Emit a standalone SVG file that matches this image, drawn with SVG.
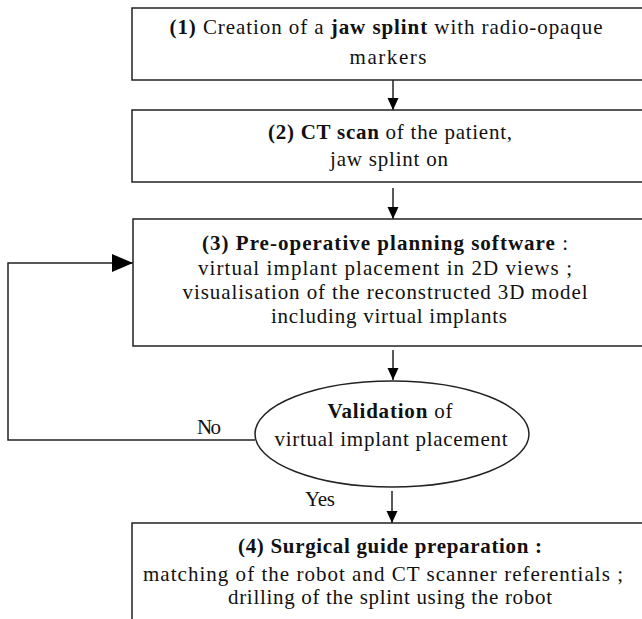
<svg xmlns="http://www.w3.org/2000/svg" width="642" height="619" viewBox="0 0 642 619">
<defs>
<style>
.box{fill:#fff;stroke:#222;stroke-width:1.5}
.ln{fill:none;stroke:#222;stroke-width:1.5}
.t{font-family:"Liberation Serif","Times New Roman",serif;font-size:21px;fill:#111;text-anchor:middle}
.b{font-weight:bold}
.lbl{font-family:"Liberation Serif","Times New Roman",serif;font-size:21px;fill:#111}
</style>
<marker id="ah" markerWidth="12" markerHeight="14" refX="12" refY="7" orient="auto" markerUnits="userSpaceOnUse">
<path d="M0,1.5 L12,7 L0,12.5 Z" fill="#000"/>
</marker>
<marker id="ahBig" markerWidth="21" markerHeight="18" refX="21" refY="9" orient="auto" markerUnits="userSpaceOnUse">
<path d="M0,0 L21,9 L0,18 Z" fill="#000"/>
</marker>
</defs>
<rect width="642" height="619" fill="#fff"/>
<g id="connectors">
<line class="ln" x1="393" y1="80" x2="393" y2="110" marker-end="url(#ah)"/>
<line class="ln" x1="393" y1="188" x2="393" y2="219" marker-end="url(#ah)"/>
<line class="ln" x1="393" y1="350" x2="393" y2="380" marker-end="url(#ah)"/>
<line class="ln" x1="392" y1="491" x2="392" y2="523" marker-end="url(#ah)"/>
<polyline class="ln" points="255,440 8,440 8,263 133,263" marker-end="url(#ahBig)"/>
<text class="lbl" x="197" y="434" textLength="24" lengthAdjust="spacing">No</text>
<text class="lbl" x="305" y="506" textLength="30" lengthAdjust="spacing">Yes</text>
</g>
<g id="node1">
<rect class="box" x="132" y="8" width="530" height="72"/>
<text class="t" x="386" y="34" textLength="433" lengthAdjust="spacing"><tspan class="b">(1)</tspan> Creation of a <tspan class="b">jaw splint</tspan> with radio-opaque</text>
<text class="t" x="388" y="64" textLength="77" lengthAdjust="spacing">markers</text>
</g>
<g id="node2">
<rect class="box" x="132" y="110" width="530" height="72"/>
<text class="t" x="390" y="139" textLength="244" lengthAdjust="spacing"><tspan class="b">(2) CT scan</tspan> of the patient,</text>
<text class="t" x="389" y="166" textLength="118" lengthAdjust="spacing">jaw splint on</text>
</g>
<g id="node3">
<rect class="box" x="133" y="219" width="530" height="127"/>
<text class="t" x="385" y="250" textLength="366" lengthAdjust="spacing"><tspan class="b">(3) Pre-operative planning software</tspan> :</text>
<text class="t" x="385" y="275" textLength="374" lengthAdjust="spacing">virtual implant placement in 2D views ;</text>
<text class="t" x="385" y="299" textLength="405" lengthAdjust="spacing">visualisation of the reconstructed 3D model</text>
<text class="t" x="389" y="323" textLength="236" lengthAdjust="spacing">including virtual implants</text>
</g>
<g id="node4">
<ellipse class="box" cx="392" cy="434" rx="137" ry="53"/>
<text class="t" x="390" y="418" textLength="125" lengthAdjust="spacing"><tspan class="b">Validation</tspan> of</text>
<text class="t" x="391" y="446" textLength="233" lengthAdjust="spacing">virtual implant placement</text>
</g>
<g id="node5">
<rect class="box" x="132" y="523" width="530" height="110"/>
<text class="t" x="390" y="553" textLength="304" lengthAdjust="spacing"><tspan class="b">(4) Surgical guide preparation :</tspan></text>
<text class="t" x="383" y="581" textLength="480" lengthAdjust="spacing">matching of the robot and CT scanner referentials ;</text>
<text class="t" x="390" y="604" textLength="324" lengthAdjust="spacing">drilling of the splint using the robot</text>
</g>
</svg>
